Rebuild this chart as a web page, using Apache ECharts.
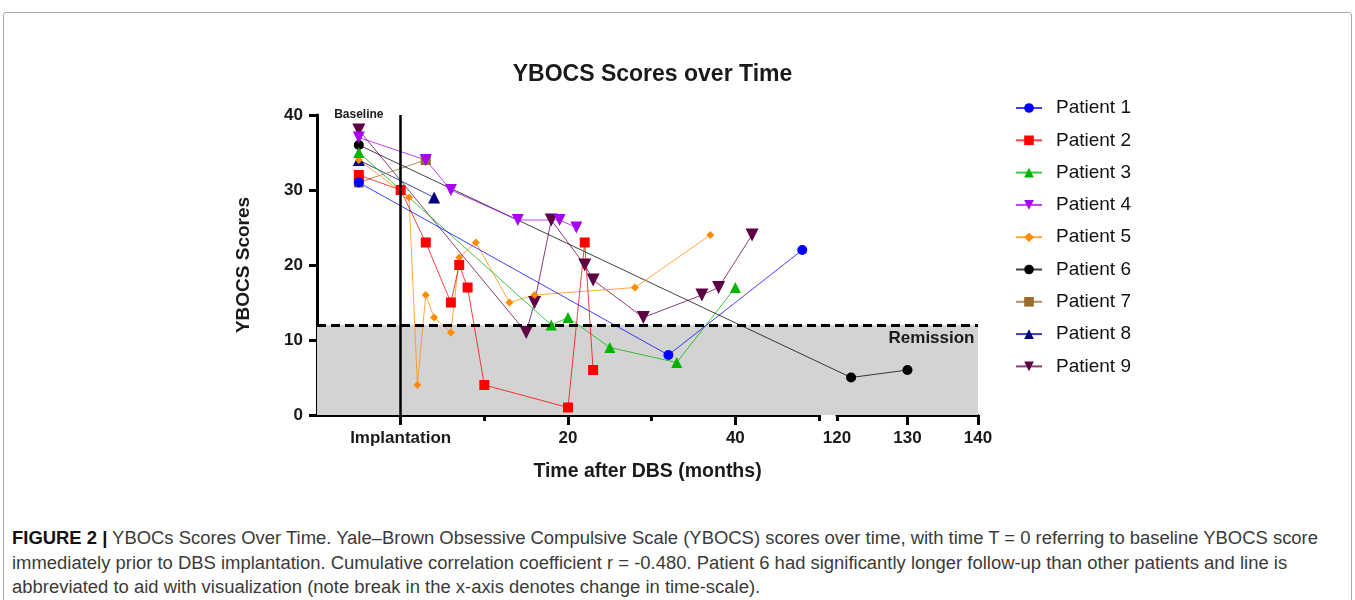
<!DOCTYPE html>
<html>
<head>
<meta charset="utf-8">
<title>YBOCS Scores over Time</title>
<script src="https://cdn.jsdelivr.net/npm/echarts@6.0.0/dist/echarts.min.js"></script>
<style>
  html, body { margin: 0; padding: 0; background: #fff; }
  #wrap { position: relative; width: 1355px; height: 600px; overflow: hidden; }
  #frame {
    position: absolute; left: 3px; top: 12px; width: 1347px; height: 640px;
    border: 1px solid #a9a9a9; border-radius: 3px;
  }
  #chart { position: absolute; left: 0; top: 0; width: 1355px; height: 520px; }
  #caption {
    position: absolute; left: 12px; top: 526px;
    font-family: 'Liberation Sans Narrow', 'Liberation Sans', Arial, sans-serif;
    font-size: 18px; line-height: 24.5px; color: #3a3a3a; white-space: nowrap;
    transform-origin: 0 0;
  }
  #caption b { color: #111; }
</style>
</head>
<body>
<div id="wrap">
  <div id="frame"></div>
  <div id="chart"></div>
  <div id="caption">
    <div id="capLine1"><b>FIGURE 2 |</b> YBOCs Scores Over Time. Yale–Brown Obsessive Compulsive Scale (YBOCS) scores over time, with time T = 0 referring to baseline YBOCS score</div>
    <div>immediately prior to DBS implantation. Cumulative correlation coefficient r = -0.480. Patient 6 had significantly longer follow-up than other patients and line is</div>
    <div>abbreviated to aid with visualization (note break in the x-axis denotes change in time-scale).</div>
  </div>
</div>
<script>
// months after DBS (-5 = baseline), YBOCS score
const patientNames = ['Patient 1', 'Patient 2', 'Patient 3', 'Patient 4', 'Patient 5',
  'Patient 6', 'Patient 7', 'Patient 8', 'Patient 9']
const patient1 = [[-5, 31], [32, 8], [48, 22]]
const patient2 = [[-5, 32], [0, 30], [3, 23], [6, 15], [7, 20], [8, 17], [10, 4], [20, 1], [22, 23], [23, 6]]
const patient3 = [[-5, 35], [18, 12], [20, 13], [25, 9], [33, 7], [40, 17]]
const patient4 = [[-5, 37], [3, 34], [6, 30], [14, 26], [19, 26], [21, 25]]
const patient5 = [[-5, 34], [1, 29], [2, 4], [3, 16], [4, 13], [6, 11], [7, 21], [9, 23], [13, 15], [16, 16], [28, 17], [37, 24]]
const patient6 = [[-5, 36], [122, 5], [130, 6]]
const patient7 = [[-5, 31], [3, 34]]
const patient8 = [[-5, 34], [4, 29]]
const patient9 = [[-5, 38], [15, 11], [16, 15], [18, 26], [22, 20], [23, 18], [29, 13], [36, 16], [38, 17], [42, 24]]
const patientData = [patient1, patient2, patient3, patient4, patient5, patient6, patient7, patient8, patient9]

const colors = ['#0000ff', '#ff0000', '#00b400', '#a800f0', '#ff8c00', '#000000', '#9a6a2c', '#000080', '#5e0046']
const symbols = ['circle', 'rect', 'triangle', 'triangle', 'diamond', 'circle', 'rect', 'triangle', 'triangle']
const rotations = [0, 0, 0, 180, 0, 0, 0, 0, 180]
const sizes = [10, 10, 11, 12, 8, 10, 10, 12, 13]

const yTicks = [0, 10, 20, 30, 40]
const remissionCut = 12
const leftMajor = [0, 20, 40]
const leftMinor = [10, 30, 50]
const rightMajor = [130, 140]
const rightMinor = [120]
const rightLabels = [120, 130, 140]

// broken x axis: -10..50 then 120..140 on its own scale
const PLOT_L = 317, PLOT_T = 115, PLOT_H = 300
const LEFT_W = 502, GAP_W = 18, RIGHT_W = 141
const LEFT_MIN = -10, LEFT_MAX = 50, RIGHT_MIN = 120, RIGHT_MAX = 140
const unit = LEFT_W / (LEFT_MAX - LEFT_MIN)

function toDisplay(x) {
  if (x <= LEFT_MAX) return x
  return LEFT_MAX + GAP_W / unit + (x - RIGHT_MIN) * (RIGHT_W / (RIGHT_MAX - RIGHT_MIN)) / unit
}
const DISPLAY_MAX = toDisplay(RIGHT_MAX)

const FONT = "'Liberation Sans', Arial, sans-serif"
const INK = '#1a1a1a'

function axisBase(gridIndex, min, max) {
  return {
    type: 'value', gridIndex, min, max, position: 'bottom',
    splitLine: { show: false },
    axisLine: { show: false, onZero: false },
    axisTick: { show: false },
    axisLabel: { show: false }
  }
}

const xAxes = [
  Object.assign(axisBase(0, LEFT_MIN, DISPLAY_MAX), {
    name: 'Time after DBS (months)', nameLocation: 'middle', nameGap: 47,
    nameTextStyle: { fontFamily: FONT, fontWeight: 'bold', fontSize: 19.5, color: INK }
  }),
  Object.assign(axisBase(1, LEFT_MIN, LEFT_MAX), {
    axisLine: { show: true, onZero: false, lineStyle: { color: '#000', width: 3 } },
    axisTick: { show: true, customValues: leftMajor, length: 10, lineStyle: { color: '#000', width: 3 } },
    axisLabel: {
      show: true, customValues: leftMajor, margin: 15,
      fontFamily: FONT, fontWeight: 'bold', fontSize: 17, color: INK,
      formatter: v => v === 0 ? 'Implantation' : String(v)
    }
  }),
  Object.assign(axisBase(1, LEFT_MIN, LEFT_MAX), {
    axisTick: { show: true, customValues: leftMinor, length: 6, lineStyle: { color: '#000', width: 3 } }
  }),
  Object.assign(axisBase(2, RIGHT_MIN, RIGHT_MAX), {
    axisLine: { show: true, onZero: false, lineStyle: { color: '#000', width: 3 } },
    axisTick: { show: true, customValues: rightMajor, length: 10, lineStyle: { color: '#000', width: 3 } },
    axisLabel: {
      show: true, customValues: rightLabels, margin: 15,
      fontFamily: FONT, fontWeight: 'bold', fontSize: 17, color: INK
    }
  }),
  Object.assign(axisBase(2, RIGHT_MIN, RIGHT_MAX), {
    axisTick: { show: true, customValues: rightMinor, length: 6, lineStyle: { color: '#000', width: 3 } }
  })
]

const yAxes = [
  {
    type: 'value', gridIndex: 0, min: yTicks[0], max: yTicks[yTicks.length - 1], interval: 10,
    splitLine: { show: false },
    axisLine: { show: true, onZero: false, lineStyle: { color: '#000', width: 3 } },
    axisTick: { show: true, length: 8, lineStyle: { color: '#000', width: 3 } },
    axisLabel: { margin: 14, fontFamily: FONT, fontWeight: 'bold', fontSize: 17, color: INK },
    name: 'YBOCS Scores', nameLocation: 'middle', nameGap: 64, nameRotate: 90,
    nameTextStyle: { fontFamily: FONT, fontWeight: 'bold', fontSize: 19, color: INK }
  },
  { type: 'value', gridIndex: 1, min: 0, max: 40, show: false },
  { type: 'value', gridIndex: 2, min: 0, max: 40, show: false }
]

// earlier patients sit on top, as in the original plot
const patientSeries = patientData.map((pts, i) => ({
  name: patientNames[i], type: 'line', xAxisIndex: 0, yAxisIndex: 0, z: 3,
  data: pts.map(p => [toDisplay(p[0]), p[1]]),
  symbol: symbols[i], symbolSize: sizes[i], symbolRotate: rotations[i],
  itemStyle: { color: colors[i] },
  lineStyle: { color: colors[i], width: 1, opacity: 0.75 }
})).reverse()

const decorSeries = {
  name: 'decor', type: 'line', xAxisIndex: 0, yAxisIndex: 0, data: [], z: 1, silent: true,
  markArea: {
    silent: true,
    itemStyle: { color: '#d3d3d3' },
    label: { show: false },
    data: [[{ yAxis: 0 }, { yAxis: remissionCut }]]
  },
  markLine: {
    silent: true, symbol: 'none', label: { show: false },
    data: [
      { yAxis: remissionCut, lineStyle: { color: '#000', width: 3, type: [9, 5] } },
      { xAxis: 0, lineStyle: { color: '#000', width: 2.5, type: 'solid' } }
    ]
  },
  markPoint: {
    silent: true, symbol: 'circle', symbolSize: 1,
    itemStyle: { color: 'rgba(0,0,0,0)' },
    data: [
      {
        coord: [-5, 40],
        label: { show: true, position: 'inside', formatter: 'Baseline', fontFamily: FONT, fontWeight: 'bold', fontSize: 12, color: INK }
      },
      {
        coord: [DISPLAY_MAX, remissionCut],
        label: {
          show: true, position: [-3, 5], align: 'right', verticalAlign: 'top', formatter: 'Remission',
          fontFamily: FONT, fontWeight: 'bold', fontSize: 17, color: INK
        }
      }
    ]
  }
}

// masks the lines where the x axis is broken
const breakSeries = {
  name: 'break', type: 'line', xAxisIndex: 0, yAxisIndex: 0, data: [], z: 5, silent: true,
  markArea: {
    silent: true, itemStyle: { color: '#d3d3d3' },
    data: [[{ xAxis: toDisplay(LEFT_MAX), yAxis: 0.3 }, { xAxis: toDisplay(RIGHT_MIN), yAxis: 11.4 }]]
  }
}

const option = {
  animation: false,
  backgroundColor: 'transparent',
  title: {
    text: 'YBOCS Scores over Time', left: PLOT_L + (LEFT_W + GAP_W + RIGHT_W) / 2, top: 58, textAlign: 'center',
    textStyle: { fontFamily: FONT, fontWeight: 'bold', fontSize: 23, color: INK }
  },
  legend: {
    orient: 'vertical', left: 1010, top: 93, itemWidth: 26, itemHeight: 12, itemGap: 12.3,
    data: patientNames,
    textStyle: { fontFamily: FONT, fontSize: 19, lineHeight: 20, color: '#111', padding: [0, 0, 0, 9] }
  },
  grid: [
    { left: PLOT_L, top: PLOT_T, width: LEFT_W + GAP_W + RIGHT_W, height: PLOT_H },
    { left: PLOT_L, top: PLOT_T, width: LEFT_W, height: PLOT_H },
    { left: PLOT_L + LEFT_W + GAP_W, top: PLOT_T, width: RIGHT_W, height: PLOT_H }
  ],
  xAxis: xAxes,
  yAxis: yAxes,
  series: [decorSeries, breakSeries].concat(patientSeries)
}

const chart = echarts.init(document.getElementById('chart'), null, { renderer: 'canvas' })
chart.setOption(option)

// stretch the caption so the first line spans the frame like the original
const cap = document.getElementById('caption')
const line1 = document.getElementById('capLine1')
const target = 1306
const w = line1.scrollWidth
if (w > 0) cap.style.transform = 'scaleX(' + (target / w) + ')'
</script>
</body>
</html>
